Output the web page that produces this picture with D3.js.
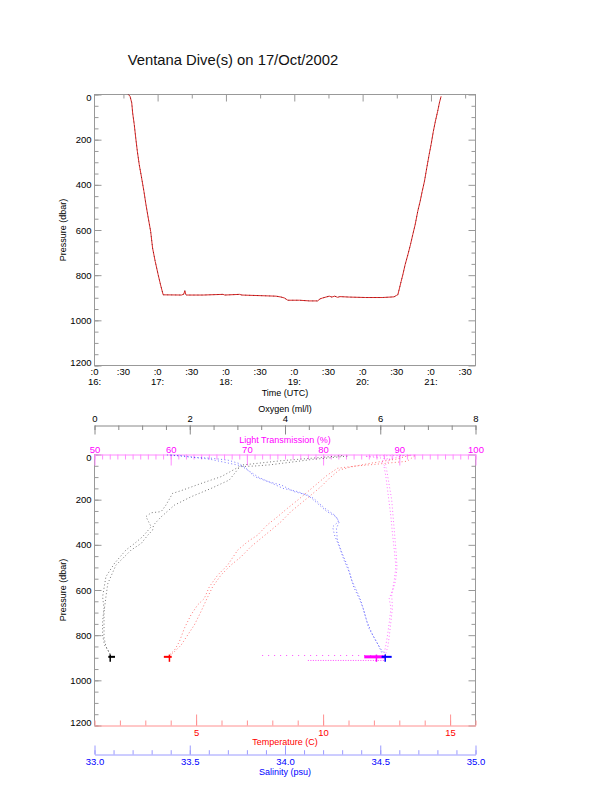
<!DOCTYPE html>
<html>
<head>
<meta charset="utf-8">
<script src="https://cdn.jsdelivr.net/npm/d3@7"></script>
<style>
  body { margin: 0; background: #fff; }
  text { font-family: 'Liberation Sans', Arial, Helvetica, sans-serif; }
</style>
</head>
<body>
<svg></svg>
<script>
// ---- Top chart: ROV pressure against time ----
var diveTime = ['16:34:18','16:35:48','16:37:18','16:38:06','16:39:30','16:40:48','16:42:12','16:43:54',
  '16:46:00','16:48:00','16:49:48','16:51:48','16:53:54','16:55:36','16:57:54','17:00:30','17:02:36',
  '17:04:54','17:21:00','17:23:00','17:23:54','17:24:48','17:25:24','17:40:00','17:57:24','17:59:00',
  '18:12:00','18:14:00','18:44:00','18:48:30','18:51:18','18:54:18','19:04:30','19:13:18','19:20:30',
  '19:22:36','19:24:54','19:27:48','19:30:42','19:33:00','19:35:30','19:38:00','19:40:00','19:48:12',
  '20:02:48','20:17:24','20:27:36','20:29:36','20:30:54','20:32:24','20:33:48','20:35:18','20:37:18',
  '20:39:42','20:42:00','20:44:00','20:46:06','20:48:24','20:50:30','20:52:18','20:54:18','20:56:18',
  '20:58:24','21:00:06','21:02:06','21:03:54','21:05:54','21:07:24','21:08:54'];
var divePressure = [0, 8, 37, 82, 133, 192, 251, 311,
  370, 429, 488, 547, 606, 680, 739, 798, 843,
  887, 888, 884, 869, 886, 888, 888, 885, 888,
  885, 888, 893, 897, 901, 911, 911, 914, 914,
  905, 901, 897, 893, 897, 893, 898, 895, 897,
  899, 899, 896, 890, 887, 857, 828, 798, 754,
  710, 665, 621, 577, 517, 473, 429, 384, 325,
  266, 222, 163, 118, 74, 37, 8];
var timeStart = '16:04:36';
var timeEnd = '21:39:06';
var timeTicks = ['16:30','17:00','17:30','18:00','18:30','19:00','19:30','20:00','20:30','21:00','21:30'];
var timeLabelAt = ['16:04:36','16:30','17:00','17:30','18:00','18:30','19:00','19:30','20:00','20:30','21:00','21:30'];
var timeLabelMin = [':0', ':30', ':0', ':30', ':0', ':30', ':0', ':30', ':0', ':30', ':0', ':30'];
var timeLabelHr = ['16:', '', '17:', '', '18:', '', '19:', '', '20:', '', '21:', ''];
var pressureTicks = [0, 200, 400, 600, 800, 1000, 1200];

// ---- Bottom chart: profiles against pressure (down and up casts) ----
var oxyDownP = [7, 17, 21, 32, 46, 51, 54, 98, 128, 160, 172, 224, 253, 258, 275, 320, 364, 394, 423, 482, 541, 630, 681, 740, 799, 844, 866, 888];
var oxyDown = [5.31, 4.83, 4.6, 4.2, 3.67, 3.36, 3.04, 2.66, 2.24, 1.82, 1.64, 1.50, 1.40, 1.19, 1.08, 1.19, 1.01, 0.84, 0.66, 0.42, 0.24, 0.17, 0.2, 0.17, 0.17, 0.21, 0.28, 0.33];
var oxyUpP = [5, 14, 28, 47, 113, 150, 187, 224, 276, 312, 335, 357, 394, 423, 490, 571, 630, 696, 755, 810, 850, 873, 890];
var oxyUp = [5.2, 4.7, 3.9, 3.08, 2.83, 2.45, 2.03, 1.68, 1.40, 1.24, 1.22, 1.12, 0.98, 0.77, 0.45, 0.28, 0.24, 0.2, 0.2, 0.2, 0.24, 0.3, 0.35];

var tempDownP = [7, 30, 44, 52, 61, 91, 128, 165, 202, 238, 276, 312, 357, 386, 423, 490, 534, 586, 638, 666, 710, 769, 829, 866, 888];
var tempDown = [13.6, 13.3, 12.0, 11.2, 10.57, 10.17, 9.78, 9.39, 9.0, 8.6, 8.2, 7.8, 7.42, 7.03, 6.64, 6.24, 5.85, 5.52, 5.32, 5.06, 4.8, 4.54, 4.34, 4.15, 3.95];
var tempUpP = [4, 20, 40, 55, 69, 106, 143, 180, 216, 253, 298, 335, 372, 408, 453, 490, 534, 586, 630, 696, 755, 799, 844, 873, 890];
var tempUp = [13.4, 12.9, 11.8, 11.1, 10.63, 10.24, 9.91, 9.52, 9.13, 8.73, 8.34, 7.95, 7.55, 7.16, 6.77, 6.37, 5.98, 5.65, 5.46, 5.19, 4.93, 4.67, 4.41, 4.15, 3.98];

var salDownP = [2, 5, 13, 16, 25, 40, 61, 98, 120, 135, 165, 180, 209, 253, 276, 298, 320, 357, 408, 468, 527, 586, 638, 681, 740, 799, 844, 881];
var salDown = [33.38, 33.46, 33.53, 33.61, 33.7, 33.76, 33.795, 33.84, 33.91, 33.98, 34.05, 34.12, 34.16, 34.22, 34.27, 34.28, 34.25, 34.26, 34.285, 34.31, 34.34, 34.36, 34.39, 34.41, 34.43, 34.46, 34.49, 34.51];
var salUpP = [3, 20, 50, 100, 150, 165, 194, 239, 268, 298, 327, 379, 438, 497, 556, 610, 652, 710, 769, 814, 859, 888];
var salUp = [33.4, 33.6, 33.77, 33.86, 33.99, 34.07, 34.15, 34.21, 34.26, 34.285, 34.27, 34.275, 34.3, 34.33, 34.35, 34.38, 34.40, 34.42, 34.44, 34.47, 34.5, 34.53];

var ltDownP = [3, 8, 20, 54, 98, 157, 216, 276, 350, 423, 497, 556, 601, 638, 681, 740, 799, 844, 881];
var ltDown = [92.0, 85.5, 88.8, 88.0, 88.24, 88.46, 88.68, 88.9, 89.1, 89.34, 89.55, 89.34, 89.1, 88.68, 88.9, 88.7, 88.46, 88.24, 88.0];
var ltUpP = [5, 30, 60, 120, 200, 280, 360, 440, 500, 560, 620, 680, 740, 800, 850, 885];
var ltUp = [90.5, 87.6, 88.3, 88.6, 89.0, 89.2, 89.4, 89.6, 89.7, 89.5, 89.0, 89.1, 88.9, 88.7, 88.5, 88.2];

// time on the bottom: [left, right, centre] value, drawn at bottomP levels
var bottomP = [886, 896, 918];
var bottomOxy = [0.29, 0.43, 0.33];
var bottomTemp = [3.73, 4.04, 3.95];
var bottomSal = [34.507, 34.56, 34.526];
var bottomLT = [85.4, 88.2, 87.0];
// light transmission scatter while moving on the bottom
var ltScatterP = [890, 912];
var ltScatterFrom = [72, 78];
var ltScatterTo = [88, 88];

var oxyTicks = [0, 2, 4, 6, 8];
var ltTicks = [50, 60, 70, 80, 90, 100];
var tempTicks = [5, 10, 15];
var salTicks = [33.0, 33.5, 34.0, 34.5, 35.0];

// Layout
var width = 612;
var height = 785;
var left = 94.5;
var right = 475.5;
var topY0 = 94.5, topY1 = 365.5;
var botY0 = 454.5, botY1 = 725.5;
var fontSize = 9.5;
var frameColor = '#999';

var svg = d3.select('svg')
  .attr('width', width)
  .attr('height', height)
  .style('display', 'block');

var parseTime = function (s) {
  return d3.utcParse(s.length > 5 ? '%H:%M:%S' : '%H:%M')(s);
};

var x = d3.scaleUtc()
  .domain([parseTime(timeStart), parseTime(timeEnd)])
  .range([left, right]);
var yTop = d3.scaleLinear().domain([0, 1200]).range([topY0, topY1]);
var yBot = d3.scaleLinear().domain([0, 1200]).range([botY0, botY1]);
var xOxy = d3.scaleLinear().domain([0, 8]).range([left, right]);
var xLT = d3.scaleLinear().domain([50, 100]).range([left, right]);
var xTemp = d3.scaleLinear().domain([1, 16]).range([left, right]);
var xSal = d3.scaleLinear().domain([33, 35]).range([left, right]);

function styleAxis (g, lineColor, textColor) {
  g.attr('font-family', null).attr('font-size', fontSize);
  g.selectAll('line').attr('stroke', lineColor);
  g.selectAll('path').attr('stroke', lineColor);
  g.selectAll('text').attr('fill', textColor).attr('font-size', fontSize);
}

// Title
svg.append('text')
  .attr('x', 233)
  .attr('y', 65)
  .attr('text-anchor', 'middle')
  .attr('font-size', 14.8)
  .attr('fill', '#111')
  .text('Ventana Dive(s) on 17/Oct/2002');

// Pressure axes (left labelled, right ticks only) for one panel
function pressureAxes (y, y0, y1) {
  var minor = d3.range(0, 1201, 50);
  var gl = svg.append('g').attr('transform', 'translate(' + left + ',0)')
    .call(d3.axisLeft(y).tickValues(minor).tickSizeInner(-4).tickSizeOuter(0).tickFormat(''));
  styleAxis(gl, frameColor, '#000');
  gl.select('.domain').remove();
  var gm = svg.append('g').attr('transform', 'translate(' + left + ',0)')
    .call(d3.axisLeft(y).tickValues(pressureTicks).tickSizeInner(-7).tickSizeOuter(0).tickPadding(3).tickFormat(d3.format('d')));
  styleAxis(gm, frameColor, '#000');
  gm.select('.domain').remove();
  gm.selectAll('text').attr('dy', function (d) {
    if (d === 0) return '0.65em';
    if (d === 1200) return '-0.05em';
    return '0.32em';
  });
  var gr = svg.append('g').attr('transform', 'translate(' + right + ',0)')
    .call(d3.axisRight(y).tickValues(minor).tickSizeInner(-4).tickSizeOuter(0).tickFormat(''));
  styleAxis(gr, frameColor, '#000');
  gr.select('.domain').remove();
  gr.selectAll('line').filter(function (d) { return d % 200 === 0; }).attr('x2', -7);

  svg.append('text')
    .attr('transform', 'translate(62.7,' + ((y0 + y1) / 2) + ')rotate(-90)')
    .attr('text-anchor', 'middle')
    .attr('dy', '0.35em')
    .attr('font-size', 9)
    .attr('fill', '#000')
    .text('Pressure (dbar)');
}

// ===== TOP PANEL =====
svg.append('rect')
  .attr('x', left).attr('y', topY0)
  .attr('width', right - left).attr('height', topY1 - topY0)
  .attr('fill', 'none').attr('stroke', frameColor);

pressureAxes(yTop, topY0, topY1);

// time ticks along the top edge
var gt = svg.append('g').attr('transform', 'translate(0,' + topY0 + ')')
  .call(d3.axisBottom(x).tickValues(timeTicks.map(parseTime)).tickSizeInner(4).tickSizeOuter(0).tickFormat(''));
styleAxis(gt, frameColor, '#000');
gt.select('.domain').remove();
gt.selectAll('line').filter(function (d) { return d.getUTCMinutes() === 0; }).attr('y2', 7);

// time labels under the panel
var tl = svg.append('g').selectAll('text')
  .data(timeLabelAt)
  .enter()
  .append('text')
    .attr('text-anchor', 'middle')
    .attr('font-size', fontSize)
    .attr('fill', '#000');
tl.append('tspan')
  .attr('x', function (d) { return x(parseTime(d)); })
  .attr('y', 375)
  .text(function (d, i) { return timeLabelMin[i]; });
tl.append('tspan')
  .attr('x', function (d) { return x(parseTime(d)); })
  .attr('y', 385)
  .text(function (d, i) { return timeLabelHr[i]; });

svg.append('text')
  .attr('x', (left + right) / 2)
  .attr('y', 396)
  .attr('text-anchor', 'middle')
  .attr('font-size', 9)
  .attr('fill', '#000')
  .text('Time (UTC)');

// dive trace
var diveLine = d3.line()
  .x(function (d, i) { return x(parseTime(diveTime[i])); })
  .y(function (d) { return yTop(d); });

svg.append('path')
  .datum(divePressure)
  .attr('d', diveLine)
  .attr('fill', 'none')
  .attr('stroke', '#e02828')
  .attr('stroke-width', 1);

svg.append('path')
  .datum(divePressure)
  .attr('d', diveLine)
  .attr('fill', 'none')
  .attr('stroke', '#000')
  .attr('stroke-width', 0.8)
  .attr('stroke-dasharray', '1,3')
  .attr('opacity', 0.55);

// ===== BOTTOM PANEL =====
svg.append('line')
  .attr('x1', left).attr('x2', left).attr('y1', botY0).attr('y2', botY1)
  .attr('stroke', frameColor);
svg.append('line')
  .attr('x1', right).attr('x2', right).attr('y1', botY0).attr('y2', botY1)
  .attr('stroke', frameColor);

pressureAxes(yBot, botY0, botY1);

// Oxygen axis (top-most)
var oxyY = 425.5;
var go = svg.append('g').attr('transform', 'translate(0,' + oxyY + ')')
  .call(d3.axisTop(xOxy).tickValues(d3.range(0, 8.01, 0.5)).tickSizeInner(-4.5).tickSizeOuter(0).tickFormat(''));
styleAxis(go, '#888', '#000');
var go2 = svg.append('g').attr('transform', 'translate(0,' + oxyY + ')')
  .call(d3.axisTop(xOxy).tickValues(oxyTicks).tickSizeInner(-9).tickSizeOuter(0).tickPadding(3.5));
styleAxis(go2, '#888', '#000');
go2.select('.domain').remove();
svg.append('text')
  .attr('x', (left + right) / 2).attr('y', 411.5)
  .attr('text-anchor', 'middle').attr('font-size', 9).attr('fill', '#000')
  .text('Oxygen (ml/l)');

// Light transmission axis (top edge of the frame)
var gl1 = svg.append('g').attr('transform', 'translate(0,' + botY0 + ')')
  .call(d3.axisTop(xLT).tickValues(d3.range(50, 100.01, 1)).tickSizeInner(-5).tickSizeOuter(0).tickFormat(''));
styleAxis(gl1, '#ff8cff', '#ff00ff');
var gl2 = svg.append('g').attr('transform', 'translate(0,' + botY0 + ')')
  .call(d3.axisTop(xLT).tickValues(ltTicks).tickSizeInner(-11).tickSizeOuter(0).tickPadding(2));
styleAxis(gl2, '#ff8cff', '#ff00ff');
gl2.select('.domain').remove();
svg.append('text')
  .attr('x', (left + right) / 2).attr('y', 443)
  .attr('text-anchor', 'middle').attr('font-size', 9).attr('fill', '#ff00ff')
  .text('Light Transmission (%)');

// Temperature axis (bottom edge of the frame)
var gT1 = svg.append('g').attr('transform', 'translate(0,' + botY1 + ')')
  .call(d3.axisBottom(xTemp).tickValues(d3.range(1, 16.01, 1)).tickSizeInner(-5).tickSizeOuter(0).tickFormat(''));
styleAxis(gT1, '#ff9090', '#ff0000');
var gT2 = svg.append('g').attr('transform', 'translate(0,' + botY1 + ')')
  .call(d3.axisBottom(xTemp).tickValues(tempTicks).tickSizeInner(-11).tickSizeOuter(0).tickPadding(3.5));
styleAxis(gT2, '#ff9090', '#ff0000');
gT2.select('.domain').remove();
svg.append('text')
  .attr('x', (left + right) / 2).attr('y', 745)
  .attr('text-anchor', 'middle').attr('font-size', 9).attr('fill', '#ff0000')
  .text('Temperature (C)');

// Salinity axis
var salY = 754.5;
var gs1 = svg.append('g').attr('transform', 'translate(0,' + salY + ')')
  .call(d3.axisBottom(xSal).tickValues(d3.range(33, 35.001, 0.1)).tickSizeInner(-4.3).tickSizeOuter(0).tickFormat(''));
styleAxis(gs1, '#9a9aff', '#0000ff');
var gs2 = svg.append('g').attr('transform', 'translate(0,' + salY + ')')
  .call(d3.axisBottom(xSal).tickValues(salTicks).tickSizeInner(-9).tickSizeOuter(0).tickPadding(4).tickFormat(d3.format('.1f')));
styleAxis(gs2, '#9a9aff', '#0000ff');
gs2.select('.domain').remove();
svg.append('text')
  .attr('x', (left + right) / 2).attr('y', 775)
  .attr('text-anchor', 'middle').attr('font-size', 9).attr('fill', '#0000ff')
  .text('Salinity (psu)');

// Profiles, drawn as dotted traces
function profile (xs, vals, ps, color) {
  var line = d3.line()
    .x(function (d, i) { return xs(vals[i]); })
    .y(function (d) { return yBot(d); });
  svg.append('path')
    .datum(ps)
    .attr('d', line)
    .attr('fill', 'none')
    .attr('stroke', color)
    .attr('stroke-width', 0.9)
    .attr('stroke-dasharray', '1,2.4')
    .attr('opacity', 0.6);
}

profile(xOxy, oxyDown, oxyDownP, '#000');
profile(xOxy, oxyUp, oxyUpP, '#000');
profile(xTemp, tempDown, tempDownP, '#ff0000');
profile(xTemp, tempUp, tempUpP, '#ff0000');
profile(xLT, ltDown, ltDownP, '#ff00ff');
profile(xLT, ltUp, ltUpP, '#ff00ff');
profile(xSal, salDown, salDownP, '#0000ff');
profile(xSal, salUp, salUpP, '#0000ff');

// light transmission scatter on the bottom
ltScatterP.forEach(function (p, i) {
  svg.append('line')
    .attr('x1', xLT(ltScatterFrom[i])).attr('x2', xLT(ltScatterTo[i]))
    .attr('y1', yBot(p)).attr('y2', yBot(p))
    .attr('stroke', '#ff00ff')
    .attr('stroke-width', 1)
    .attr('stroke-dasharray', i === 0 ? '1,5' : '1,1.5')
    .attr('opacity', 0.7);
});

// dense clusters while sitting on the bottom
function cluster (xs, v, color, w) {
  svg.append('line')
    .attr('x1', xs(v[0])).attr('x2', xs(v[1]))
    .attr('y1', yBot(bottomP[1])).attr('y2', yBot(bottomP[1]))
    .attr('stroke', color).attr('stroke-width', w);
  svg.append('line')
    .attr('x1', xs(v[2])).attr('x2', xs(v[2]))
    .attr('y1', yBot(bottomP[0])).attr('y2', yBot(bottomP[2]))
    .attr('stroke', color).attr('stroke-width', 1.5);
}

cluster(xLT, bottomLT, '#ff00ff', 3);
cluster(xOxy, bottomOxy, '#000', 2);
cluster(xTemp, bottomTemp, '#ff0000', 2);
cluster(xSal, bottomSal, '#0000ff', 2);
</script>
</body>
</html>
